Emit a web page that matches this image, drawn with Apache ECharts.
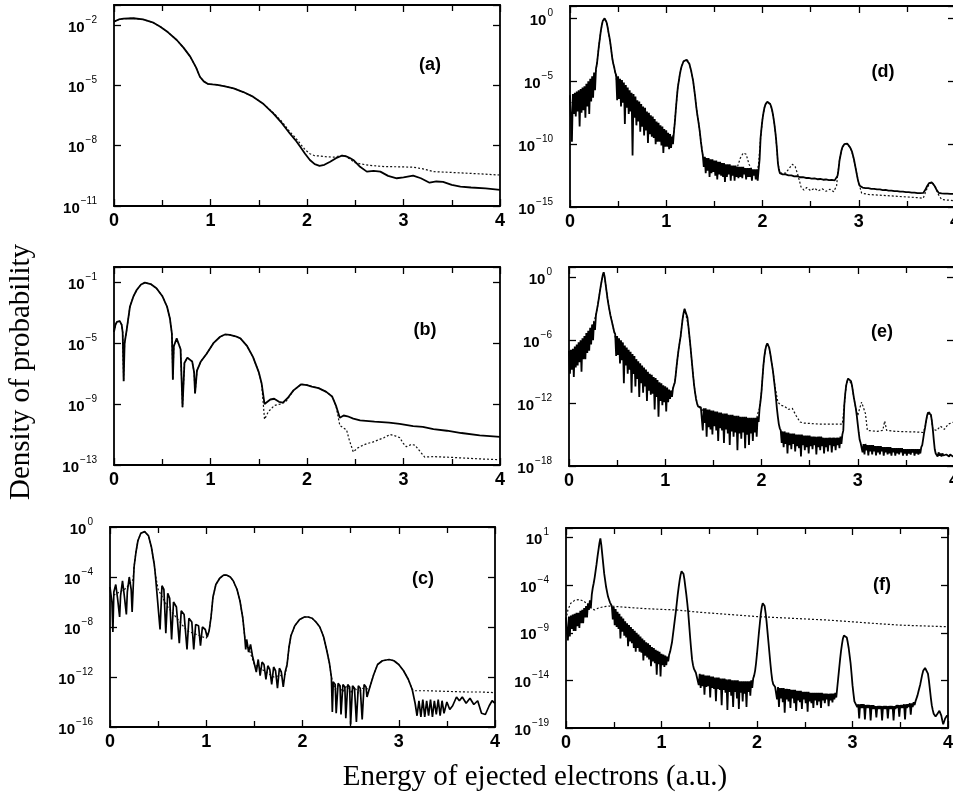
<!DOCTYPE html>
<html><head><meta charset="utf-8">
<script src="https://cdn.jsdelivr.net/npm/echarts@6/dist/echarts.min.js"></script>
<style>html,body{margin:0;padding:0;background:#fff}#c{width:953px;height:795px}</style>
</head><body><div id="c"></div>
<script>
// Values are log10(density of probability); x = energy (a.u.)
const STEP = 0.01; // sampling step of the uniformly sampled spectra (d, e, f), 0..4
const xTickLabels = [0, 1, 2, 3, 4];
const yTicksA = [-11, -8, -5, -2];
const yTicksB = [-13, -9, -5, -1];
const yTicksC = [-16, -12, -8, -4, 0];
const yTicksD = [-15, -10, -5, 0];
const yTicksE = [-18, -12, -6, 0];
const yTicksF = [-19, -14, -9, -4, 1];

const aSolid = [[0,-1.83],[0.05,-1.72],[0.1,-1.68],[0.2,-1.66],[0.3,-1.72],[0.4,-1.86],[0.48,-2.08],[0.56,-2.36],[0.65,-2.74],[0.72,-3.12],[0.79,-3.57],[0.85,-4.1],[0.89,-4.57],[0.93,-4.8],[0.97,-4.92],[1.02,-4.95],[1.07,-4.97],[1.15,-5.05],[1.24,-5.15],[1.34,-5.33],[1.44,-5.56],[1.55,-5.93],[1.65,-6.39],[1.74,-6.88],[1.82,-7.38],[1.88,-7.72],[1.93,-8.05],[1.98,-8.4],[2.03,-8.71],[2.08,-8.92],[2.13,-9.0],[2.18,-8.95],[2.24,-8.8],[2.3,-8.62],[2.36,-8.5],[2.4,-8.52],[2.44,-8.6],[2.48,-8.71],[2.55,-9.05],[2.62,-9.29],[2.69,-9.25],[2.76,-9.29],[2.84,-9.5],[2.93,-9.62],[3.0,-9.58],[3.1,-9.49],[3.18,-9.62],[3.27,-9.84],[3.34,-9.78],[3.41,-9.8],[3.5,-9.95],[3.59,-10.04],[3.7,-10.08],[3.85,-10.12],[4.0,-10.2]];
const aDotted = [[0,-1.83],[0.05,-1.72],[0.1,-1.68],[0.2,-1.66],[0.3,-1.72],[0.4,-1.86],[0.48,-2.08],[0.56,-2.36],[0.65,-2.74],[0.72,-3.12],[0.79,-3.57],[0.85,-4.1],[0.89,-4.57],[0.93,-4.8],[0.97,-4.92],[1.02,-4.95],[1.07,-4.97],[1.15,-5.05],[1.24,-5.15],[1.34,-5.33],[1.44,-5.56],[1.55,-5.93],[1.65,-6.36],[1.74,-6.8],[1.82,-7.3],[1.88,-7.6],[1.93,-7.9],[1.98,-8.2],[2.03,-8.4],[2.08,-8.5],[2.13,-8.51],[2.2,-8.55],[2.28,-8.57],[2.34,-8.5],[2.38,-8.48],[2.44,-8.65],[2.5,-8.85],[2.55,-8.9],[2.65,-8.98],[2.8,-9.04],[2.95,-9.05],[3.1,-9.07],[3.2,-9.15],[3.31,-9.29],[3.5,-9.33],[3.79,-9.4],[4.0,-9.46]];

const bSolid = [[0,-4.26],[0.015,-3.8],[0.03,-3.6],[0.06,-3.55],[0.08,-3.8],[0.09,-4.3],[0.1,-7.5],[0.11,-5.0],[0.13,-4.2],[0.165,-2.61],[0.2,-1.95],[0.235,-1.51],[0.28,-1.15],[0.32,-1.03],[0.38,-1.12],[0.44,-1.4],[0.5,-1.9],[0.55,-2.61],[0.58,-3.4],[0.6,-4.37],[0.61,-7.4],[0.62,-5.2],[0.65,-4.69],[0.67,-4.8],[0.69,-5.4],[0.71,-9.2],[0.73,-6.3],[0.76,-5.95],[0.78,-5.94],[0.81,-6.2],[0.83,-6.9],[0.84,-8.3],[0.86,-6.8],[0.9,-6.2],[0.96,-5.7],[1.03,-5.0],[1.1,-4.58],[1.15,-4.43],[1.2,-4.45],[1.26,-4.55],[1.31,-4.69],[1.38,-5.2],[1.44,-5.9],[1.5,-6.9],[1.53,-7.65],[1.56,-9.0],[1.58,-8.9],[1.62,-8.7],[1.66,-8.65],[1.71,-8.85],[1.75,-8.9],[1.8,-8.6],[1.86,-8.1],[1.94,-7.7],[2.0,-7.75],[2.05,-7.85],[2.12,-7.95],[2.2,-8.2],[2.26,-8.5],[2.3,-9.1],[2.34,-9.9],[2.38,-9.75],[2.42,-9.8],[2.48,-9.95],[2.55,-10.07],[2.7,-10.15],[2.85,-10.22],[2.96,-10.3],[3.1,-10.45],[3.2,-10.5],[3.31,-10.65],[3.45,-10.75],[3.6,-10.9],[3.79,-11.05],[4.0,-11.15]];
const bDotted = [[0,-4.26],[0.015,-3.8],[0.03,-3.6],[0.06,-3.55],[0.08,-3.8],[0.09,-4.3],[0.1,-7.5],[0.11,-5.0],[0.13,-4.2],[0.165,-2.61],[0.2,-1.95],[0.235,-1.51],[0.28,-1.15],[0.32,-1.03],[0.38,-1.12],[0.44,-1.4],[0.5,-1.9],[0.55,-2.61],[0.58,-3.4],[0.6,-4.37],[0.61,-7.4],[0.62,-5.2],[0.65,-4.69],[0.67,-4.8],[0.69,-5.4],[0.71,-9.2],[0.73,-6.3],[0.76,-5.95],[0.78,-5.94],[0.81,-6.2],[0.83,-6.9],[0.84,-8.3],[0.86,-6.8],[0.9,-6.2],[0.96,-5.7],[1.03,-5.0],[1.1,-4.58],[1.15,-4.43],[1.2,-4.45],[1.26,-4.55],[1.31,-4.69],[1.38,-5.2],[1.44,-5.9],[1.5,-6.9],[1.53,-7.65],[1.56,-10.0],[1.6,-9.5],[1.66,-9.1],[1.72,-9.0],[1.78,-8.85],[1.86,-8.1],[1.94,-7.7],[2.0,-7.75],[2.05,-7.85],[2.12,-7.95],[2.2,-8.2],[2.26,-8.5],[2.3,-9.1],[2.34,-10.4],[2.41,-10.7],[2.44,-11.4],[2.48,-12.15],[2.52,-11.9],[2.58,-11.7],[2.62,-11.6],[2.68,-11.5],[2.72,-11.4],[2.8,-11.2],[2.86,-11.0],[2.92,-11.1],[2.96,-11.2],[3.0,-11.6],[3.03,-11.8],[3.08,-11.65],[3.12,-11.7],[3.17,-12.1],[3.22,-12.48],[3.31,-12.45],[3.5,-12.5],[3.79,-12.6],[4.0,-12.65]];

const cSolid = [[0,-4.8],[0.02,-6.0],[0.03,-8.4],[0.04,-5.2],[0.06,-4.6],[0.08,-5.8],[0.1,-7.2],[0.11,-5.5],[0.13,-4.3],[0.15,-5.6],[0.17,-7.0],[0.18,-5.2],[0.2,-4.0],[0.22,-5.0],[0.23,-6.8],[0.24,-5.0],[0.25,-3.2],[0.27,-2.0],[0.29,-1.1],[0.32,-0.5],[0.36,-0.37],[0.4,-0.7],[0.43,-1.6],[0.46,-3.0],[0.47,-3.7],[0.49,-3.6],[0.52,-8.2],[0.54,-4.7],[0.56,-5.0],[0.58,-8.5],[0.6,-5.3],[0.62,-5.7],[0.64,-9.0],[0.66,-6.0],[0.69,-6.4],[0.72,-9.3],[0.74,-6.7],[0.77,-7.0],[0.8,-9.8],[0.82,-7.3],[0.85,-7.6],[0.87,-9.8],[0.89,-7.8],[0.92,-7.9],[0.94,-9.5],[0.96,-8.0],[0.99,-8.2],[1.01,-8.8],[1.03,-8.3],[1.05,-7.2],[1.07,-5.6],[1.1,-4.6],[1.14,-4.1],[1.18,-3.85],[1.21,-3.84],[1.25,-4.0],[1.28,-4.3],[1.32,-5.0],[1.35,-5.9],[1.38,-7.3],[1.4,-8.8],[1.41,-9.8],[1.42,-9.0],[1.44,-10.0],[1.46,-9.4],[1.48,-10.3],[1.5,-10.4],[1.52,-11.6],[1.54,-10.6],[1.56,-11.9],[1.58,-10.8],[1.6,-11.0],[1.62,-12.2],[1.64,-11.1],[1.66,-11.4],[1.68,-12.6],[1.7,-11.2],[1.72,-11.5],[1.74,-12.9],[1.76,-11.3],[1.78,-11.6],[1.8,-12.8],[1.82,-11.6],[1.84,-11.0],[1.86,-9.6],[1.88,-8.7],[1.92,-7.9],[1.97,-7.4],[2.02,-7.2],[2.06,-7.2],[2.1,-7.3],[2.14,-7.6],[2.18,-8.0],[2.22,-8.8],[2.25,-9.8],[2.28,-10.9],[2.3,-12.0],[2.31,-14.8],[2.32,-12.4],[2.34,-12.6],[2.35,-14.9],[2.37,-12.5],[2.39,-12.7],[2.4,-15.0],[2.42,-12.6],[2.44,-12.8],[2.45,-15.3],[2.47,-12.6],[2.49,-12.8],[2.5,-15.8],[2.52,-12.7],[2.54,-12.9],[2.56,-15.6],[2.58,-12.7],[2.6,-12.9],[2.62,-15.4],[2.64,-12.6],[2.66,-12.8],[2.67,-13.6],[2.7,-12.8],[2.74,-11.8],[2.78,-11.0],[2.83,-10.7],[2.9,-10.6],[2.95,-10.7],[3.0,-11.0],[3.05,-11.5],[3.1,-12.2],[3.14,-13.0],[3.17,-14.1],[3.19,-15.1],[3.21,-13.9],[3.23,-15.2],[3.25,-13.8],[3.27,-15.2],[3.29,-13.9],[3.31,-15.1],[3.33,-13.8],[3.35,-15.2],[3.37,-13.9],[3.39,-15.0],[3.41,-13.8],[3.43,-15.1],[3.45,-13.9],[3.47,-14.9],[3.5,-14.0],[3.53,-14.6],[3.56,-14.3],[3.6,-13.6],[3.63,-13.9],[3.66,-13.6],[3.7,-14.1],[3.74,-13.7],[3.78,-14.2],[3.82,-13.9],[3.86,-14.9],[3.9,-15.0],[3.94,-14.3],[3.97,-13.9],[4.0,-14.1]];
const cDotted = [[0,-5.6],[0.05,-5.4],[0.1,-5.2],[0.15,-5.0],[0.2,-4.6],[0.24,-4.2],[0.25,-3.2],[0.27,-2.0],[0.29,-1.1],[0.32,-0.5],[0.36,-0.37],[0.4,-0.7],[0.43,-1.6],[0.46,-3.0],[0.47,-3.7],[0.5,-5.0],[0.6,-6.4],[0.8,-8.3],[1.0,-8.9],[1.03,-8.3],[1.05,-7.2],[1.07,-5.6],[1.1,-4.6],[1.14,-4.1],[1.18,-3.85],[1.21,-3.84],[1.25,-4.0],[1.28,-4.3],[1.32,-5.0],[1.35,-5.9],[1.38,-7.3],[1.4,-8.8],[1.5,-11.0],[1.7,-12.0],[1.82,-11.8],[1.84,-11.0],[1.86,-9.6],[1.88,-8.7],[1.92,-7.9],[1.97,-7.4],[2.02,-7.2],[2.06,-7.2],[2.1,-7.3],[2.14,-7.6],[2.18,-8.0],[2.22,-8.8],[2.25,-9.8],[2.28,-10.9],[2.3,-12.0],[2.34,-13.0],[2.38,-12.6],[2.42,-13.2],[2.46,-12.7],[2.5,-13.3],[2.54,-12.8],[2.58,-13.3],[2.62,-12.9],[2.66,-13.0],[2.7,-12.8],[2.74,-11.8],[2.78,-11.0],[2.83,-10.7],[2.9,-10.6],[2.95,-10.7],[3.0,-11.0],[3.05,-11.5],[3.1,-12.2],[3.14,-13.0],[3.17,-13.1],[3.3,-13.1],[3.5,-13.15],[3.7,-13.2],[3.85,-13.2],[4.0,-13.25]];

// d, e, f : solid curves sampled every STEP from 0 to 4 (401 samples each)
const dSolid = [
-6.1,-8.0,-9.8,-6.0,-7.6,-5.9,-7.8,-5.8,-7.4,-5.7,-8.6,-5.6,-7.5,-5.5,-7.3,-5.4,-7.9,-5.2,-7.0,-5.0,-7.6,-4.8,-6.6,-4.6,-6.3,-4.3,-5.7,-4.0,-3.6,
-2.9,-2.2,-1.6,-1.0,-0.55,-0.2,-0.05,0.02,-0.1,-0.3,-0.65,-1.1,-1.5,-2.0,-2.6,-3.2,-3.6,-3.9,-4.3,
-4.5,-6.5,-4.6,-6.4,-4.8,-7.0,-4.9,-6.7,-5.1,-8.4,-5.3,-7.1,-5.5,-7.6,-5.7,-7.4,-5.9,-10.9,-6.0,-7.9,-6.2,-8.5,-6.5,-8.2,-6.6,-9.0,-6.8,-8.6,-7.0,-9.3,-7.1,-8.9,-7.4,-9.9,-7.5,-9.2,-7.7,-9.4,-7.8,-9.5,-8.0,-10.0,-8.2,-9.8,-8.3,-9.8,-8.5,-10.1,-8.6,-10.7,-8.8,-10.2,-8.9,-10.2,-9.1,-10.4,-9.2,-10.3,-9.4,-10.0,
-9.0,
-8.2,-7.2,-6.3,-5.5,-5.0,-4.5,-4.1,-3.8,-3.6,-3.4,-3.35,-3.3,-3.29,-3.3,-3.4,-3.6,-3.9,-4.2,-4.6,-5.0,-5.6,-6.2,-6.9,-7.5,-8.0,-8.5,-9.1,-9.8,-10.4,
-10.9,-11.8,-11.0,-12.3,-11.1,-12.1,-11.1,-12.6,-11.2,-12.3,-11.2,-12.2,-11.3,-12.5,-11.3,-12.8,-11.4,-12.4,-11.4,-12.5,-11.5,-12.6,-11.5,-13.0,-11.6,-12.6,-11.6,-12.4,-11.6,-12.9,-11.7,-12.5,-11.7,-12.9,-11.7,-12.6,-11.8,-12.7,-11.8,-12.6,-11.8,-12.7,-11.8,-12.4,-11.9,-12.8,-11.9,-12.6,-11.9,-12.6,-11.9,-12.9,-12.0,-12.5,-12.0,-12.8,-12.0,-12.9,-12.0,-11.2,
-9.5,-8.7,-8.0,-7.5,-7.1,-6.85,-6.7,-6.62,-6.6,-6.65,-6.8,-7.0,-7.3,-7.7,-8.2,-8.8,-9.5,-10.4,-11.5,-12.0,-12.3,-12.33,
-12.35,-12.40,-12.38,-12.43,-12.40,-12.46,-12.43,-12.48,-12.45,-12.51,-12.48,-12.53,-12.50,-12.56,-12.53,-12.58,-12.55,-12.61,-12.58,-12.63,-12.60,-12.65,-12.62,-12.67,-12.64,-12.69,-12.66,-12.71,-12.68,-12.73,-12.70,-12.74,-12.71,-12.76,-12.73,-12.77,-12.74,-12.79,-12.76,-12.80,-12.77,-12.81,-12.78,-12.83,-12.80,-12.84,-12.81,-12.85,-12.82,-12.86,-12.83,-12.87,-12.84,-12.88,-12.85,-12.88,-12.86,-12.8,-12.5,
-12.0,-11.3,-10.9,-10.5,-10.25,-10.1,-10.0,-9.95,-9.93,-9.95,-10.0,-10.1,-10.25,-10.4,-10.6,-10.9,-11.2,-11.6,-12.0,-12.4,-12.8,-13.1,-13.3,-13.4,-13.43,
-13.45,-13.48,-13.46,-13.5,-13.48,-13.52,-13.5,-13.54,-13.52,-13.56,-13.54,-13.57,-13.55,-13.59,-13.57,-13.6,-13.58,-13.62,-13.6,-13.63,-13.61,-13.65,-13.63,-13.66,-13.64,-13.68,-13.66,-13.69,-13.67,-13.71,-13.69,-13.72,-13.7,-13.74,-13.72,-13.75,-13.73,-13.77,-13.75,-13.78,-13.76,-13.8,-13.78,-13.81,-13.79,-13.82,-13.8,-13.84,-13.82,-13.85,-13.83,-13.86,-13.84,-13.88,-13.86,-13.89,-13.87,-13.9,-13.88,-13.91,-13.89,-13.92,-13.9,-13.88,
-13.8,-13.65,-13.5,-13.35,-13.2,-13.1,-13.05,-13.03,-13.05,-13.1,-13.2,-13.35,-13.5,-13.65,-13.8,-13.87,-13.9,-13.91,-13.92,-13.92,-13.93,-13.93,-13.93,-13.94,-13.94,-13.94,-13.94,-13.95,-13.95,-13.95,-13.95,-13.95,-13.95];
const dDotted = [[0,-6.6],[0.06,-7.2],[0.12,-6.6],[0.2,-5.6],[0.26,-4.6],[0.28,-3.6],[0.3,-2.2],[0.32,-1.0],[0.34,-0.2],[0.36,0.02],[0.38,-0.3],[0.4,-1.1],[0.42,-2.0],[0.44,-3.2],[0.46,-3.9],[0.5,-5.6],[0.7,-7.6],[0.9,-9.0],[1.06,-9.6],[1.08,-9.0],[1.1,-7.2],[1.12,-5.5],[1.14,-4.5],[1.16,-3.8],[1.18,-3.4],[1.2,-3.3],[1.22,-3.3],[1.24,-3.6],[1.26,-4.2],[1.28,-5.0],[1.3,-6.2],[1.32,-7.5],[1.34,-8.5],[1.36,-9.8],[1.38,-10.9],[1.5,-11.9],[1.7,-12.1],[1.74,-11.8],[1.77,-11.1],[1.8,-10.7],[1.83,-10.8],[1.86,-11.6],[1.9,-12.2],[1.94,-12.4],[1.96,-11.5],[1.98,-9.5],[2.0,-8.0],[2.02,-7.1],[2.04,-6.7],[2.06,-6.6],[2.08,-6.8],[2.1,-7.3],[2.12,-8.2],[2.14,-9.5],[2.16,-11.5],[2.18,-12.3],[2.24,-12.3],[2.28,-11.9],[2.31,-11.6],[2.34,-11.8],[2.37,-12.5],[2.4,-13.4],[2.43,-13.65],[2.46,-13.45],[2.5,-13.7],[2.54,-13.5],[2.58,-13.72],[2.62,-13.55],[2.66,-13.75],[2.7,-13.58],[2.74,-13.78],[2.77,-13.3],[2.78,-12.5],[2.8,-11.3],[2.82,-10.5],[2.84,-10.1],[2.86,-9.95],[2.88,-9.95],[2.9,-10.1],[2.92,-10.4],[2.94,-10.9],[2.96,-11.6],[2.98,-12.4],[3.0,-13.1],[3.03,-13.9],[3.1,-14.0],[3.2,-14.05],[3.3,-14.1],[3.4,-14.15],[3.5,-14.2],[3.6,-14.25],[3.67,-14.3],[3.7,-13.7],[3.73,-13.2],[3.76,-13.0],[3.79,-13.3],[3.82,-13.9],[3.86,-14.4],[3.92,-14.45],[4.0,-14.5]];

const eSolid = [
-7.0,-9.2,-6.9,-8.8,-6.8,-9.5,-6.6,-8.6,-6.4,-8.4,-6.2,-8.1,-6.0,-9.0,-5.8,-7.8,-5.6,-7.8,-5.3,-7.2,-5.1,-7.0,-4.8,-6.4,-4.5,-6.0,-4.2,-5.0,-3.6,
-3.1,-2.6,-2.0,-1.4,-0.8,-0.3,0.2,0.5,0.1,-0.6,-1.3,-2.0,-2.6,-3.1,-3.6,-4.0,-4.4,-4.8,-5.2,
-5.4,-7.5,-5.6,-7.4,-5.8,-8.2,-6.0,-7.9,-6.2,-10.1,-6.5,-8.4,-6.7,-9.2,-6.9,-8.8,-7.1,-11.0,-7.3,-9.2,-7.5,-10.4,-7.8,-9.7,-8.0,-11.4,-8.2,-10.1,-8.4,-11.0,-8.6,-10.4,-8.8,-11.8,-9.0,-10.8,-9.2,-11.2,-9.3,-11.1,-9.5,-12.6,-9.6,-11.4,-9.8,-13.3,-10.0,-11.8,-10.1,-12.2,-10.3,-11.9,-10.4,-12.8,-10.5,-11.9,-10.7,-11.6,-10.8,-11.4,
-10.6,
-10.3,-10.0,-9.2,-8.3,-7.5,-6.8,-6.2,-5.6,-4.8,-4.0,-3.4,-3.0,-2.9,-3.1,-3.8,-4.6,-5.5,-6.4,-7.4,-8.4,-9.4,-10.3,-11.0,-11.6,-12.0,-12.3,-12.3,-12.35,-12.4,
-12.4,-14.6,-12.5,-13.9,-12.5,-15.2,-12.6,-14.3,-12.6,-14.5,-12.7,-15.0,-12.7,-14.2,-12.8,-14.6,-12.8,-15.6,-12.9,-14.4,-12.9,-14.6,-13.0,-15.8,-13.0,-14.5,-13.0,-14.9,-13.1,-16.0,-13.1,-14.7,-13.1,-15.2,-13.2,-14.8,-13.2,-16.5,-13.2,-14.9,-13.3,-15.4,-13.3,-14.8,-13.3,-16.3,-13.3,-15.0,-13.4,-16.0,-13.4,-14.9,-13.4,-15.6,-13.4,-14.8,-13.4,-15.2,-13.3,-13.8,
-12.5,-11.8,-10.9,-9.6,-8.4,-7.5,-6.9,-6.5,-6.3,-6.4,-6.7,-7.2,-7.8,-8.4,-9.0,-9.8,-10.6,-11.5,-12.5,-13.3,-14.0,-14.4,
-14.6,-15.8,-14.7,-16.2,-14.7,-15.9,-14.8,-16.8,-14.8,-16.0,-14.9,-16.4,-14.9,-15.9,-14.9,-16.6,-15.0,-16.1,-15.0,-16.3,-15.0,-17.1,-15.0,-16.0,-15.1,-16.5,-15.1,-16.2,-15.1,-16.8,-15.1,-16.1,-15.2,-16.4,-15.2,-16.0,-15.2,-16.9,-15.2,-16.2,-15.2,-16.5,-15.2,-16.1,-15.3,-16.8,-15.3,-16.2,-15.3,-16.6,-15.3,-16.0,-15.3,-16.7,-15.3,-16.1,-15.3,-16.5,-15.3,-16.0,-15.3,-16.3,-15.2,-15.9,-15.0,-14.6,
-12.2,-11.1,-10.3,-9.9,-9.65,-9.6,-9.7,-9.9,-10.3,-10.9,-11.5,-12.0,-12.5,-13.2,-14.0,-14.8,-15.5,-15.8,
-15.9,-16.7,-15.9,-16.9,-15.9,-16.5,-16.0,-17.0,-16.0,-16.6,-16.0,-16.9,-16.0,-16.6,-16.1,-17.0,-16.1,-16.7,-16.1,-16.9,-16.1,-16.6,-16.2,-17.0,-16.2,-16.7,-16.2,-16.9,-16.2,-16.8,-16.2,-17.0,-16.3,-16.7,-16.3,-17.0,-16.3,-16.8,-16.3,-16.9,-16.3,-16.7,-16.3,-17.0,-16.4,-16.8,-16.4,-17.0,-16.4,-16.8,-16.4,-16.9,-16.4,-16.7,-16.4,-17.0,-16.4,-16.8,-16.4,-16.9,-16.4,-16.8,-16.2,-16.0,
-15.4,-14.8,-14.3,-13.7,-13.2,-12.9,-12.8,-12.85,-13.1,-13.7,-14.5,-15.5,-16.4,-16.8,-16.9,-17.1,-16.7,-17.0,-16.8,-17.1,-16.8,-17.0,-16.9,-17.1,-16.9,-17.0,-16.9,-17.1,-16.9,-17.0,-16.9,-17.1,-17.0];
const eDotted = [[0,-7.5],[0.1,-7.2],[0.2,-5.8],[0.28,-3.6],[0.3,-2.6],[0.32,-1.4],[0.34,-0.3],[0.36,0.5],[0.38,-0.6],[0.4,-2.0],[0.42,-3.1],[0.44,-4.0],[0.46,-4.8],[0.5,-6.5],[0.7,-8.8],[0.9,-10.8],[1.06,-11.2],[1.08,-10.6],[1.1,-10.0],[1.12,-8.3],[1.14,-6.8],[1.16,-5.6],[1.18,-4.0],[1.2,-3.0],[1.22,-3.1],[1.24,-4.6],[1.26,-6.4],[1.28,-8.4],[1.3,-10.3],[1.32,-11.6],[1.34,-12.3],[1.5,-13.5],[1.7,-13.8],[1.94,-14.0],[1.96,-13.0],[1.98,-12.5],[2.0,-10.9],[2.02,-8.4],[2.04,-6.9],[2.06,-6.3],[2.08,-6.7],[2.1,-7.8],[2.12,-9.0],[2.14,-10.4],[2.17,-11.9],[2.2,-12.2],[2.24,-12.3],[2.28,-12.6],[2.32,-12.5],[2.36,-13.2],[2.4,-13.8],[2.44,-13.9],[2.6,-14.0],[2.84,-14.0],[2.86,-12.2],[2.88,-10.3],[2.9,-9.65],[2.92,-9.7],[2.94,-10.3],[2.96,-11.5],[2.98,-12.5],[3.0,-13.2],[3.02,-12.5],[3.04,-11.9],[3.06,-12.0],[3.08,-13.0],[3.1,-14.6],[3.2,-14.7],[3.26,-14.6],[3.28,-13.7],[3.3,-14.6],[3.4,-14.7],[3.6,-14.75],[3.68,-14.8],[3.7,-14.3],[3.72,-13.2],[3.74,-12.8],[3.76,-13.1],[3.78,-14.5],[3.82,-14.6],[3.86,-14.2],[3.9,-14.5],[3.94,-14.0],[4.0,-13.8]];

const fSolid = [
-7.4,-9.0,-9.8,-7.3,-9.4,-7.2,-8.6,-7.1,-8.8,-7.0,-8.8,-6.9,-8.3,-6.9,-8.5,-6.7,-8.0,-6.6,-8.0,-6.4,-7.4,-6.2,-7.4,-5.9,-6.6,-5.6,-6.4,-5.0,-4.3,
-3.8,-3.2,-2.5,-1.8,-1.0,-0.3,0.4,0.9,0.2,-0.8,-1.8,-2.8,-3.5,-4.2,-4.7,-5.2,-5.5,-5.8,-6.0,
-6.2,-7.6,-6.3,-8.2,-6.5,-8.4,-6.8,-8.6,-7.0,-9.6,-7.3,-8.9,-7.5,-9.3,-7.8,-9.5,-8.0,-10.4,-8.2,-9.9,-8.4,-10.1,-8.6,-10.6,-8.8,-11.0,-9.0,-10.6,-9.2,-11.0,-9.4,-11.1,-9.6,-11.9,-9.8,-11.4,-10.0,-11.6,-10.1,-11.8,-10.3,-12.5,-10.5,-12.0,-10.6,-12.2,-10.8,-13.4,-10.9,-12.3,-11.0,-13.6,-11.2,-12.4,-11.3,-12.6,-11.4,-12.4,-11.5,-12.0,
-11.3,
-11.0,-10.8,-10.0,-9.2,-8.4,-7.6,-6.8,-5.9,-5.0,-4.2,-3.5,-2.9,-2.55,-2.5,-2.8,-3.4,-4.2,-5.0,-5.9,-6.9,-8.2,-9.5,-10.7,-11.8,-12.4,-12.8,-13.0,-13.2,-13.3,
-13.3,-14.5,-13.3,-14.8,-13.4,-14.6,-13.4,-15.5,-13.5,-14.7,-13.5,-14.6,-13.5,-15.8,-13.6,-14.8,-13.6,-14.9,-13.7,-16.2,-13.7,-14.9,-13.7,-15.0,-13.8,-16.6,-13.8,-15.0,-13.8,-15.3,-13.9,-17.1,-13.9,-15.2,-13.9,-15.6,-14.0,-16.8,-14.0,-15.2,-14.0,-15.9,-14.0,-17.0,-14.1,-15.3,-14.1,-16.2,-14.1,-15.4,-14.1,-16.8,-14.1,-15.2,-14.1,-15.6,-14.0,-14.8,-13.8,-13.5,
-13.0,-12.2,-11.2,-10.1,-9.0,-8.0,-7.0,-6.3,-5.9,-5.9,-6.2,-6.9,-7.8,-8.9,-10.0,-11.1,-12.2,-13.2,-14.0,-14.4,-14.6,-14.7,
-14.7,-16.0,-14.7,-16.8,-14.8,-15.9,-14.8,-16.3,-14.8,-17.4,-14.9,-16.0,-14.9,-16.2,-14.9,-16.9,-15.0,-15.9,-15.0,-16.4,-15.0,-17.2,-15.1,-16.1,-15.1,-16.3,-15.1,-17.0,-15.2,-16.0,-15.2,-16.4,-15.2,-17.3,-15.2,-16.2,-15.3,-16.4,-15.3,-16.9,-15.3,-16.1,-15.3,-16.6,-15.3,-16.2,-15.3,-16.9,-15.3,-16.1,-15.4,-16.4,-15.4,-16.0,-15.4,-16.7,-15.4,-16.1,-15.4,-16.3,-15.4,-16.0,-15.3,-15.8,-14.8,-13.8,
-12.8,-11.8,-10.9,-10.2,-9.6,-9.3,-9.2,-9.2,-9.5,-10.0,-10.6,-11.4,-12.2,-13.3,-14.5,-15.4,-16.2,-16.4,
-16.4,-16.8,-16.5,-18.0,-16.5,-16.9,-16.5,-16.9,-16.5,-18.1,-16.6,-16.9,-16.6,-16.9,-16.6,-18.2,-16.6,-17.0,-16.6,-17.0,-16.7,-17.9,-16.7,-17.0,-16.7,-17.0,-16.7,-18.2,-16.7,-17.0,-16.7,-17.0,-16.7,-18.0,-16.7,-17.0,-16.7,-17.0,-16.7,-18.2,-16.7,-17.0,-16.6,-16.9,-16.6,-17.8,-16.6,-16.9,-16.6,-16.9,-16.5,-18.1,-16.5,-16.9,-16.5,-16.8,-16.4,-17.6,-16.4,-16.8,-16.3,-16.6,-16.2,-16.0,
-15.6,-15.2,-14.8,-14.4,-13.9,-13.4,-13.0,-12.8,-12.7,-12.7,-12.8,-13.3,-14.0,-14.9,-15.8,-16.6,-17.1,-17.5,-17.7,-17.8,-17.6,-17.5,-17.3,-17.2,-17.4,-17.7,-18.2,-18.6,-18.4,-18.0,-17.8,-17.7,-17.8];
const fDotted = [[0,-7.6],[0.02,-6.6],[0.05,-5.9],[0.09,-5.6],[0.14,-5.5],[0.19,-5.7],[0.23,-6.1],[0.27,-6.5],[0.3,-6.6],[0.34,-6.4],[0.4,-6.25],[0.46,-6.2],[0.6,-6.3],[0.8,-6.45],[1.0,-6.55],[1.15,-6.6],[1.4,-6.85],[1.6,-7.0],[1.8,-7.15],[2.0,-7.3],[2.2,-7.4],[2.4,-7.5],[2.6,-7.6],[2.73,-7.66],[3.0,-7.85],[3.2,-8.0],[3.5,-8.2],[3.8,-8.3],[4.0,-8.37]];

const sampled = ys => ys.map((v, i) => [+(i * STEP).toFixed(2), v]);

const panels = [
  {name:'(a)', grid:{left:114, top:5,   width:386, height:201}, yr:[-11,-1,3], ticks:yTicksA, solid:aSolid, dotted:aDotted, lx:430, ly:65, lw:1.8},
  {name:'(b)', grid:{left:114, top:267, width:386, height:198}, yr:[-13,0,4],  ticks:yTicksB, solid:bSolid, dotted:bDotted, lx:425, ly:330, lw:1.8},
  {name:'(c)', grid:{left:110, top:527, width:385, height:200}, yr:[-16,0,4],  ticks:yTicksC, solid:cSolid, dotted:cDotted, lx:423, ly:579, lw:1.7},
  {name:'(d)', grid:{left:570, top:6,   width:385, height:201}, yr:[-15,1,5],  ticks:yTicksD, solid:sampled(dSolid), dotted:dDotted, lx:883, ly:72, lw:1.8},
  {name:'(e)', grid:{left:569, top:267, width:385, height:199}, yr:[-18,1,6],  ticks:yTicksE, solid:sampled(eSolid), dotted:eDotted, lx:882, ly:332, lw:1.8},
  {name:'(f)', grid:{left:566, top:528, width:382, height:200}, yr:[-19,2,5],  ticks:yTicksF, solid:sampled(fSolid), dotted:fDotted, lx:882, ly:585, lw:1.8}
];

const black = {color:'#000', width:1.8};
const grids = [], xAxes = [], yAxes = [], series = [], graphics = [];
const sup = n => (n < 0 ? '\u2212' + (-n) : String(n));
panels.forEach((p, i) => {
  grids.push(Object.assign({containLabel:false, outerBoundsMode:'none'}, p.grid));
  ['bottom','top'].forEach(pos => xAxes.push({
    gridIndex:i, type:'value', position:pos, min:0, max:4, interval:1,
    axisLine:{show:true, onZero:false, lineStyle:black},
    axisTick:{show:true, inside:true, length:7, lineStyle:{color:'#000', width:1.3}},
    minorTick:{show:true, splitNumber:2, length:6, lineStyle:{color:'#000', width:1.3}},
    splitLine:{show:false}, minorSplitLine:{show:false},
    axisLabel:{show: pos === 'bottom', margin:6, color:'#000', fontFamily:'Liberation Sans', fontWeight:'bold', fontSize:18,
      formatter: v => xTickLabels.includes(Math.round(v)) && Math.abs(v - Math.round(v)) < 1e-6 ? String(Math.round(v)) : ''}
  }));
  ['left','right'].forEach(pos => yAxes.push({
    gridIndex:i, type:'value', position:pos, min:p.yr[0], max:p.yr[1], interval:p.yr[2],
    axisLine:{show:true, onZero:false, lineStyle:black},
    axisTick:{show:true, inside:true, length:7, lineStyle:{color:'#000', width:1.3}},
    splitLine:{show:false},
    axisLabel:{show: pos === 'left', margin:17, color:'#000',
      formatter: v => { const n = Math.round(v); return (Math.abs(v-n) < 1e-6 && p.ticks.includes(n)) ? '{b|10}{s|' + sup(n) + '}' : ''; },
      rich:{
        b:{fontFamily:'Liberation Sans', fontWeight:'bold', fontSize:15, color:'#000', verticalAlign:'bottom', lineHeight:16},
        s:{fontFamily:'Liberation Sans', fontSize:10, color:'#000', verticalAlign:'bottom', padding:[0,0,10,1]}
      }}
  }));
  series.push({type:'line', name:p.name + ' dotted', xAxisIndex:2*i, yAxisIndex:2*i, data:p.dotted,
    symbol:'none', clip:true, animation:false, lineStyle:{color:'#111', width:1.2, type:[2,2]}});
  series.push({type:'line', name:p.name + ' solid', xAxisIndex:2*i, yAxisIndex:2*i, data:p.solid,
    symbol:'none', clip:true, animation:false, lineStyle:{color:'#000', width:p.lw, join:'bevel'}});
  graphics.push({type:'text', x:p.lx, y:p.ly, style:{text:p.name, font:'bold 18px "Liberation Sans"', fill:'#000', align:'center', verticalAlign:'middle'}});
});
graphics.push({type:'text', x:21, y:372, rotation:Math.PI/2, style:{text:'Density of probability', font:'29px "Liberation Serif"', fill:'#000', align:'center', verticalAlign:'middle'}});
graphics.push({type:'text', x:535, y:777, style:{text:'Energy of ejected electrons (a.u.)', font:'29px "Liberation Serif"', fill:'#000', align:'center', verticalAlign:'middle'}});

const chart = echarts.init(document.getElementById('c'), null, {renderer:'canvas'});
chart.setOption({
  animation:false, backgroundColor:'#fff',
  grid:grids, xAxis:xAxes, yAxis:yAxes, series:series, graphic:graphics
});
</script></body></html>
